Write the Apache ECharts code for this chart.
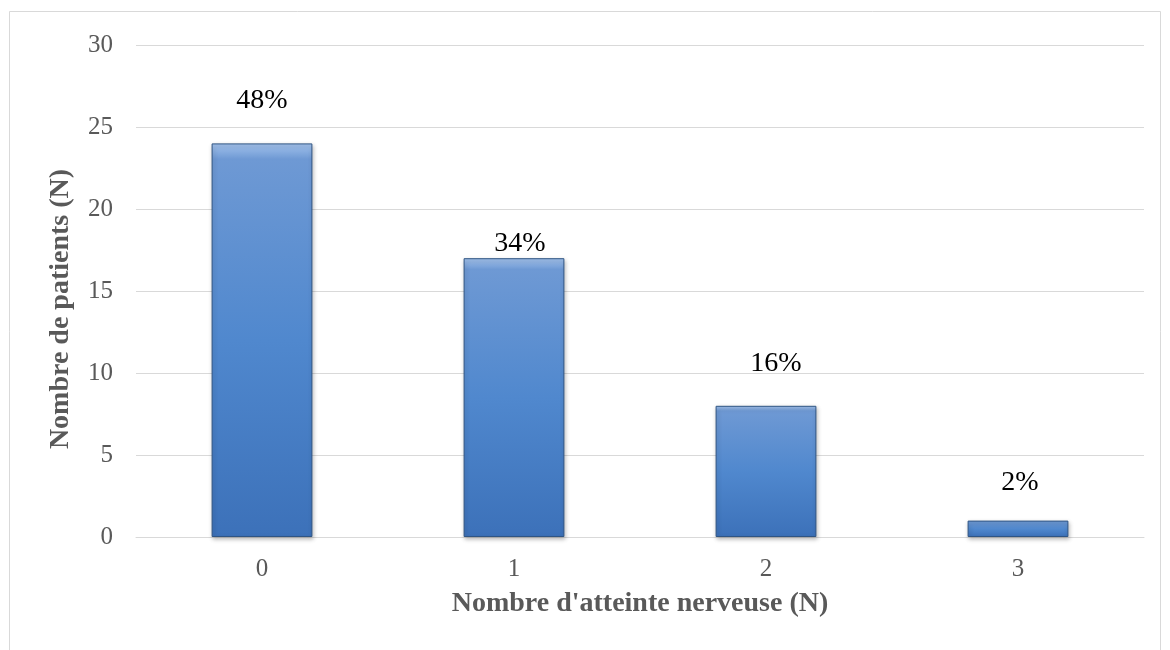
<!DOCTYPE html>
<html>
<head>
<meta charset="utf-8">
<script src="https://cdn.jsdelivr.net/npm/echarts@6/dist/echarts.min.js"></script>
<style>
  html, body { margin: 0; padding: 0; background: #ffffff; }
  #chart { width: 1170px; height: 650px; }
</style>
</head>
<body>
<div id="chart"></div>
<script>
// Number of nerve involvements vs. number of patients
const categories = ['0', '1', '2', '3'];
const patientCounts = [24, 17, 8, 1];
const percentLabels = ['48%', '34%', '16%', '2%'];
const yTicks = [0, 5, 10, 15, 20, 25, 30];
const xTitle = "Nombre d'atteinte nerveuse (N)";
const yTitle = 'Nombre de patients (N)';

// Hand-placed label positions above each bar: [dx, distance]
const labelPlacement = [[0, 29], [6, 1], [10, 28], [2, 24]];

const serif = '"Liberation Serif", "DejaVu Serif", serif';
const grey = '#595959';

const barFill = new echarts.graphic.LinearGradient(0, 0, 0, 1, [
  { offset: 0, color: '#a4c3ec' },
  { offset: 0.04, color: '#6e99d4' },
  { offset: 0.5, color: '#5088ce' },
  { offset: 1, color: '#3c71b9' }
]);

const chart = echarts.init(document.getElementById('chart'), null, { renderer: 'canvas' });

chart.setOption({
  animation: false,
  backgroundColor: '#ffffff',
  graphic: [
    {
      type: 'rect',
      shape: { x: 9.5, y: 11.5, width: 1151, height: 700 },
      style: { fill: 'none', stroke: '#d9d9d9', lineWidth: 1 },
      silent: true
    },
    {
      type: 'text',
      x: 61,
      y: 309,
      rotation: Math.PI / 2,
      style: {
        text: yTitle,
        font: 'bold 28px ' + serif,
        fill: grey,
        textAlign: 'center',
        textVerticalAlign: 'middle'
      },
      silent: true
    }
  ],
  grid: { left: 136, right: 26, top: 45, bottom: 113 },
  xAxis: {
    type: 'category',
    data: categories,
    name: xTitle,
    nameLocation: 'middle',
    nameGap: 53,
    nameTextStyle: { fontFamily: serif, fontWeight: 'bold', fontSize: 28, color: grey },
    axisLine: { show: true, lineStyle: { color: '#d9d9d9', width: 1 } },
    axisTick: { show: false },
    axisLabel: { fontFamily: serif, fontSize: 25, color: grey, margin: 20 }
  },
  yAxis: {
    type: 'value',
    min: yTicks[0],
    max: yTicks[yTicks.length - 1],
    interval: 5,
    axisLine: { show: false },
    axisTick: { show: false },
    axisLabel: { fontFamily: serif, fontSize: 25, color: grey, margin: 23 },
    splitLine: { lineStyle: { color: '#d9d9d9', width: 1 } }
  },
  series: [{
    type: 'bar',
    barWidth: '40%',
    data: patientCounts.map((v, i) => ({
      value: v,
      label: {
        show: true,
        position: 'top',
        distance: labelPlacement[i][1],
        offset: [labelPlacement[i][0], 0],
        formatter: percentLabels[i],
        fontFamily: serif,
        fontSize: 28,
        color: '#000000'
      }
    })),
    itemStyle: {
      color: barFill,
      borderColor: '#2f5584',
      borderWidth: 1,
      shadowColor: 'rgba(0,0,0,0.25)',
      shadowBlur: 4,
      shadowOffsetX: 1,
      shadowOffsetY: 2
    }
  }]
});
</script>
</body>
</html>
